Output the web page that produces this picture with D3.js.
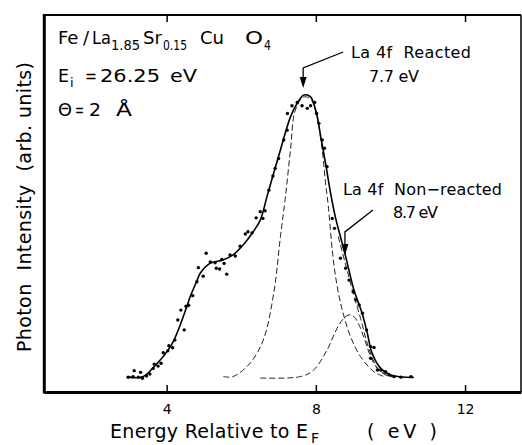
<!DOCTYPE html>
<html>
<head>
<meta charset="utf-8">
<script src="https://cdn.jsdelivr.net/npm/d3@7"></script>
<style>
  body { margin: 0; background: #fff; }
  svg { display: block; font-family: "DejaVu Sans", "Liberation Sans", sans-serif; }
  svg text { white-space: pre; }
</style>
</head>
<body>
<svg id="chart" width="522" height="445"></svg>
<script>
// measured points (energy in eV, intensity in arb. units)
const dotE = [2.97, 3.10, 3.13, 3.24, 3.30, 3.35, 3.46, 3.55, 3.64, 3.67, 3.77, 3.85, 3.91, 4.03, 4.06,
  4.16, 4.22, 4.30, 4.38, 4.47, 4.52, 4.59, 4.70, 4.81, 4.85, 4.98, 5.06, 5.17, 5.30, 5.33, 5.42, 5.48,
  5.54, 5.61, 5.70, 5.84, 5.97, 6.11, 6.18, 6.29, 6.40, 6.51, 6.58, 6.64, 6.74, 6.85, 6.91, 7.00, 7.14,
  7.23, 7.24, 7.36, 7.50, 7.63, 7.77, 7.86, 7.97, 8.02, 8.08, 8.17, 8.23, 8.30, 8.44, 8.50, 8.66, 8.80,
  8.89, 9.00, 9.07, 9.16, 9.25, 9.36, 9.47, 9.56, 9.47, 9.65, 9.74, 9.87, 9.96, 10.10, 10.28, 10.55];
const dotI = [0.3, 0.5, 2.6, 0.3, 2.0, -0.1, 0.7, 1.4, 3.4, 4.9, 4.2, 5.2, 8.9, 9.6, 11.4,
  10.7, 13.4, 20.5, 24.0, 17.0, 25.4, 25.7, 29.1, 34.0, 39.0, 36.0, 44.1, 41.0, 40.7, 38.8, 38.5, 41.9,
  40.5, 36.7, 43.5, 43.1, 46.6, 50.9, 51.7, 51.3, 56.6, 58.8, 56.4, 59.1, 66.4, 71.4, 74.1, 77.6, 84.1,
  87.6, 93.5, 96.2, 97.4, 96.2, 95.3, 96.2, 97.4, 93.5, 90.0, 84.1, 81.2, 74.7, 56.4, 52.9, 42.3, 38.8,
  34.6, 30.5, 27.6, 25.8, 22.9, 17.0, 11.1, 10.8, 7.0, 2.8, 2.8, 2.2, 1.1, 0.5, 0.3, 0.5];

// solid fitted curve
const fitE = [2.93, 3.36, 3.63, 4.13, 4.54, 4.63, 4.81, 4.90, 5.16, 5.51, 5.78, 6.05, 6.32, 6.51, 6.69,
  6.86, 7.05, 7.32, 7.50, 7.68, 7.86, 7.94, 8.04, 8.13, 8.26, 8.40, 8.53, 8.66, 8.80, 9.02, 9.24, 9.38,
  9.51, 9.74, 10.01, 10.63];
const fitI = [0.4, 0.4, 3.5, 11.7, 25.2, 28.7, 34.3, 37.0, 40.5, 41.7, 43.5, 47.0, 51.7, 55.8, 64.1,
  72.0, 80.6, 92.3, 97.1, 100, 99.4, 97.1, 92.3, 85.3, 75.9, 65.0, 56.5, 49.9, 42.9, 31.2, 22.9, 15.8,
  8.7, 3.4, 1.1, 0.2];

// dashed component: La 4f reacted
const reactE = [5.52, 5.78, 6.24, 6.59, 6.87, 7.05, 7.18, 7.32, 7.45, 7.67, 7.86, 8.02, 8.17, 8.26,
  8.34, 8.42, 8.50, 8.62, 8.75, 8.93, 9.20, 9.56, 9.83];
const reactI = [0.5, 0.5, 5.3, 13.4, 29.9, 49.9, 63.5, 80.6, 94.7, 99.3, 98.6, 92.9, 80.6, 69.0,
  60.0, 48.0, 38.5, 29.0, 22.0, 14.6, 7.5, 2.2, 0.5];

// dashed component: La 4f non-reacted
const nonE = [6.51, 7.59, 7.94, 8.30, 8.57, 8.75, 8.89, 9.02, 9.16, 9.34, 9.47, 9.65, 9.92, 10.14];
const nonI = [0.0, 0.5, 2.8, 9.9, 17.6, 21.1, 22.3, 21.7, 18.7, 12.3, 7.5, 3.4, 1.1, 0.0];

// dashed sum on the high-energy side
const sumE = [8.60, 8.80, 9.00, 9.20, 9.35, 9.50, 9.65, 9.85, 10.05];
const sumI = [50.0, 40.0, 30.0, 21.0, 13.5, 7.5, 3.5, 1.2, 0.4];

const xTicks = [4, 8, 12];

// annotation arrows: [energy, intensity of tip]
const arrowReacted = [7.66, 102.5];
const arrowNon = [8.78, 43.5];

const svg = d3.select("#chart");

const x = d3.scaleLinear().domain([0.72, 13.5]).range([44.3, 521]);
const y = d3.scaleLinear().domain([-4.95, 128.3]).range([392, 15]);

const zip = (a, b) => a.map((v, i) => [v, b[i]]);

const line = d3.line()
  .x(d => x(d[0]))
  .y(d => y(d[1]))
  .curve(d3.curveCatmullRom.alpha(0.5));

// frame
svg.append("line").attr("x1", 44.3).attr("x2", 521).attr("y1", 15).attr("y2", 15)
  .attr("stroke", "#000").attr("stroke-width", 2);
svg.append("line").attr("x1", 521).attr("x2", 521).attr("y1", 15).attr("y2", 392)
  .attr("stroke", "#000").attr("stroke-width", 1.5);

// axes
const xAxisBottom = svg.append("g")
  .attr("transform", "translate(0,392)")
  .call(d3.axisBottom(x).tickValues(xTicks).tickSizeInner(-7).tickSizeOuter(0).tickPadding(12).tickFormat(d3.format("d")));
xAxisBottom.select(".domain").attr("stroke-width", 2.8);
xAxisBottom.selectAll(".tick line").attr("stroke-width", 1.5);
xAxisBottom.selectAll("text").attr("font-size", 14).attr("font-family", "DejaVu Sans").attr("fill", "#000");

const xAxisTop = svg.append("g")
  .attr("transform", "translate(0,15)")
  .call(d3.axisTop(x).tickValues(xTicks).tickSizeInner(-7).tickSizeOuter(0).tickFormat(""));
xAxisTop.select(".domain").remove();
xAxisTop.selectAll(".tick line").attr("stroke-width", 1.5);

svg.append("line").attr("x1", 44.3).attr("x2", 44.3).attr("y1", 14).attr("y2", 393.4)
  .attr("stroke", "#000").attr("stroke-width", 3);

// curves
const dashed = [[reactE, reactI], [nonE, nonI], [sumE, sumI]];
dashed.forEach(([e, i]) => {
  svg.append("path").datum(zip(e, i)).attr("d", line)
    .attr("fill", "none").attr("stroke", "#222").attr("stroke-width", 1).attr("stroke-dasharray", "6,3");
});
svg.append("path").datum(zip(fitE, fitI)).attr("d", line)
  .attr("fill", "none").attr("stroke", "#000").attr("stroke-width", 1.6);

svg.append("g").selectAll("circle")
  .data(zip(dotE, dotI))
  .join("circle")
  .attr("cx", d => x(d[0]))
  .attr("cy", d => y(d[1]))
  .attr("r", 1.7)
  .attr("fill", "#000");

// title block, pieces placed where they sit in the original
function piece(parent, px, py, size, txt, len) {
  const t = parent.append("tspan").attr("x", px).attr("y", py).attr("font-size", size).text(txt);
  if (len) t.attr("textLength", len).attr("lengthAdjust", "spacingAndGlyphs");
}
const t1 = svg.append("text");
piece(t1, 58, 44, 18, "Fe");
piece(t1, 83, 44, 18, "/");
piece(t1, 92, 44, 18, "La", 19);
piece(t1, 111, 50, 14, "1.85", 29);
piece(t1, 143, 44, 18, "Sr", 19);
piece(t1, 163, 50, 14, "0.15", 24);
piece(t1, 200, 44, 18, "Cu", 24);
piece(t1, 245, 44, 18, "O", 18);
piece(t1, 264, 50, 14, "4", 7);

const t2 = svg.append("text");
piece(t2, 58, 82, 18, "E", 11);
piece(t2, 70, 87, 13, "i");
piece(t2, 85, 82, 18, "=", 12);
piece(t2, 100, 82, 18, "26.25", 60);
piece(t2, 170, 82, 18, "eV", 27);

const t3 = svg.append("text");
piece(t3, 58, 116, 18, "\u0398", 14);
piece(t3, 75, 116, 18, "=", 9);
piece(t3, 89, 116, 18, "2", 12);
piece(t3, 116, 116, 18, "\u00C5", 16);

// annotations
svg.append("text").attr("x", 351).attr("y", 58).attr("font-size", 16)
  .attr("textLength", 120).attr("lengthAdjust", "spacing").text("La 4f  Reacted");
svg.append("text").attr("x", 369).attr("y", 82).attr("font-size", 16)
  .attr("textLength", 50).attr("lengthAdjust", "spacing").text("7.7 eV");
svg.append("text").attr("x", 343).attr("y", 195).attr("font-size", 16)
  .attr("textLength", 159).attr("lengthAdjust", "spacing").text("La 4f  Non\u2212reacted");
svg.append("text").attr("x", 393).attr("y", 218).attr("font-size", 16)
  .attr("textLength", 45).attr("lengthAdjust", "spacing").text("8.7 eV");

function arrow(tip, bend, start) {
  const tx = x(tip[0]), ty = y(tip[1]);
  svg.append("path")
    .attr("d", `M${tx + start[0]},${ty + start[1]} L${tx},${ty + bend} L${tx},${ty - 8}`)
    .attr("fill", "none").attr("stroke", "#000").attr("stroke-width", 1.3);
  svg.append("path")
    .attr("d", `M${tx - 3.5},${ty - 11} L${tx + 3.5},${ty - 11} L${tx},${ty} Z`)
    .attr("fill", "#000");
}
arrow(arrowReacted, -20, [40, -36]);
arrow(arrowNon, -23, [28, -45]);

// axis titles
svg.append("text").attr("x", 110).attr("y", 438).attr("font-size", 19)
  .attr("textLength", 198).attr("lengthAdjust", "spacing").text("Energy Relative to E");
svg.append("text").attr("x", 311).attr("y", 443).attr("font-size", 14).text("F");
svg.append("text").attr("x", 367).attr("y", 438).attr("font-size", 19)
  .attr("textLength", 70).attr("lengthAdjust", "spacing").text("( eV )");

svg.append("text")
  .attr("transform", "translate(31,352) rotate(-90)")
  .attr("font-size", 19)
  .attr("textLength", 290).attr("lengthAdjust", "spacing")
  .text("Photon  Intensity  (arb. units)");
</script>
</body>
</html>
